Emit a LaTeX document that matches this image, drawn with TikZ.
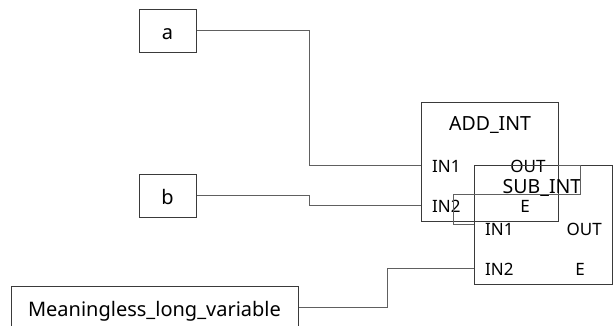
\documentclass[tikz,border=0pt]{standalone}
\usepackage{fontspec}
\setmainfont{Noto Sans}
\definecolor{boxc}{HTML}{3A3A3A}
\definecolor{wirec}{HTML}{606060}
\begin{document}
\begin{tikzpicture}[x=1pt,y=-1pt,
  box/.style={draw=boxc, line width=1pt, inner sep=0pt, rectangle},
  wire/.style={draw=wirec, line width=1pt},
  title/.style={font=\fontsize{19.5}{22}\selectfont, inner sep=0pt, anchor=base},
  port/.style={font=\fontsize{17}{20}\selectfont, inner sep=0pt, anchor=base},
  var/.style={font=\fontsize{20}{23}\selectfont, inner sep=0pt, anchor=base}]
\path[use as bounding box] (0,0) rectangle (616,325);
\clip (0,0) rectangle (616,325);
% variable boxes
\node[box, minimum width=57.4pt, minimum height=43.3pt] (a) at (168,30.7) {};
\node[var] (at) at (167.5,39) {a};
\node[box, minimum width=57.4pt, minimum height=43pt] (b) at (168,195.8) {};
\node[var] (bt) at (167.5,204) {b};
\node[box, minimum width=286.6pt, minimum height=55pt] (lv) at (155,314.2) {};
\node[var] (lvt) at (154.5,316) {Meaningless\_long\_variable};
% function blocks
\node[box, minimum width=137pt, minimum height=119.7pt] (add) at (489.5,161.9) {};
\node[title] (addt) at (490,130) {ADD\_INT};
\node[port, anchor=base west] (addin1) at (432,172) {IN1};
\node[port, anchor=base west] (addin2) at (432,212) {IN2};
\node[port] (addout) at (528,172) {OUT};
\node[port] (adde) at (525,212) {E};
\node[box, minimum width=138pt, minimum height=119pt] (sub) at (543,224.5) {};
\node[title] (subt) at (542,193) {SUB\_INT};
\node[port, anchor=base west] (subin1) at (485,235) {IN1};
\node[port, anchor=base west] (subin2) at (485,275) {IN2};
\node[port, anchor=base east] (subout) at (602,235) {OUT};
\node[port] (sube) at (580,275) {E};
% port coordinates
\coordinate (p-add-in1) at (421,165);
\coordinate (p-add-in2) at (421,205);
\coordinate (p-add-out) at (558,165);
\coordinate (p-sub-in1) at (474,224.3);
\coordinate (p-sub-in2) at (474,268.3);
% wires
\draw[wire] (a.east) -- (309.3,30.7) |- (p-add-in1);
\draw[wire] (b.east) -- (309.3,195.8) |- (p-add-in2);
\draw[wire] (lv.east |- 0,307.7) -- (387.3,307.7) |- (p-sub-in2);
\draw[wire] (p-add-out) -- (580,165) -- (580,194) -- (453,194) |- (p-sub-in1);
\end{tikzpicture}
\end{document}
